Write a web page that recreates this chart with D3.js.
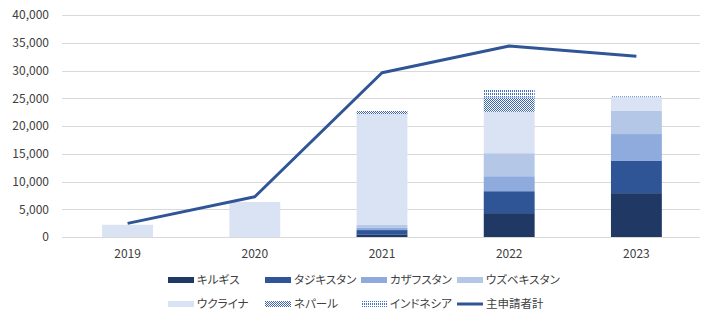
<!DOCTYPE html>
<html>
<head>
<meta charset="utf-8">
<script src="https://cdn.jsdelivr.net/npm/d3@7"></script>
<style>
  html, body { margin: 0; padding: 0; background: #fff; }
  svg { display: block; }
  text { font-family: "Noto Sans CJK JP", "Noto Sans", sans-serif; fill: #404040; }
  .legend text { font-feature-settings: "palt"; }
</style>
</head>
<body>
<svg id="chart" width="715" height="322"></svg>
<script>
// 年別・国籍別の申請者数
const years = ["2019", "2020", "2021", "2022", "2023"];
const kyrgyz    = [0, 0, 400, 4300, 7900];
const tajik     = [0, 0, 850, 3950, 5800];
const kazakh    = [0, 0, 400, 2700, 4850];
const uzbek     = [0, 0, 500, 4150, 4150];
const ukraine   = [2200, 6300, 20000, 7450, 2500];
const nepal     = [0, 0, 550, 2600, 0];
const indonesia = [0, 0, 0, 1500, 150];
const total     = [2450, 7250, 29600, 34400, 32550];
const yTicks = [0, 5000, 10000, 15000, 20000, 25000, 30000, 35000, 40000];

const series = [
  { name: "キルギス",     values: kyrgyz,    fill: "#203864" },
  { name: "タジキスタン", values: tajik,     fill: "#2f5597" },
  { name: "カザフスタン", values: kazakh,    fill: "#8faadc" },
  { name: "ウズベキスタン", values: uzbek,   fill: "#b4c7e7" },
  { name: "ウクライナ",   values: ukraine,   fill: "#dae3f3" },
  { name: "ネパール",     values: nepal,     fill: "url(#checker)" },
  { name: "インドネシア", values: indonesia, fill: "url(#dots)" }
];
const lineName = "主申請者計";

const svg = d3.select("#chart");
const margin = { left: 64, right: 15, top: 15, bottom: 85 };
const W = 715, H = 322;

// patterns
const defs = svg.append("defs");
const checker = defs.append("pattern").attr("id", "checker")
  .attr("patternUnits", "userSpaceOnUse").attr("width", 2).attr("height", 2);
checker.append("rect").attr("width", 2).attr("height", 2).attr("fill", "#fff");
checker.append("rect").attr("x", 0).attr("y", 0).attr("width", 1).attr("height", 1).attr("fill", "#3f67b3");
checker.append("rect").attr("x", 1).attr("y", 1).attr("width", 1).attr("height", 1).attr("fill", "#3f67b3");
const dots = defs.append("pattern").attr("id", "dots")
  .attr("patternUnits", "userSpaceOnUse").attr("width", 2).attr("height", 3);
dots.append("rect").attr("width", 2).attr("height", 3).attr("fill", "#fff");
dots.append("rect").attr("x", 0).attr("y", 0).attr("width", 1).attr("height", 2).attr("fill", "#4472c4");

const x = d3.scaleBand().domain(years).range([margin.left, W - margin.right]);
const y = d3.scaleLinear().domain([0, 40000]).range([237, 15]);

// gridlines
svg.append("g").selectAll("line").data(yTicks).join("line")
  .attr("x1", 62).attr("x2", W - margin.right)
  .attr("y1", d => Math.round(y(d)) + 0.5).attr("y2", d => Math.round(y(d)) + 0.5)
  .attr("stroke", "#d9d9d9").attr("stroke-width", 1);

// y axis labels
const yAxis = d3.axisLeft(y).tickValues(yTicks).tickSize(0).tickPadding(0)
  .tickFormat(d3.format(","));
const gy = svg.append("g").attr("transform", "translate(49,0)").call(yAxis);
gy.select(".domain").remove();
gy.selectAll("text").attr("font-size", 12).attr("fill", "#404040")
  .style("font-family", '"Noto Sans CJK JP", sans-serif');

// x axis labels
const xAxis = d3.axisBottom(x).tickSize(0).tickPadding(0);
const gx = svg.append("g").attr("transform", "translate(0,249)").call(xAxis);
gx.select(".domain").remove();
gx.selectAll("text").attr("font-size", 12).attr("fill", "#333")
  .style("font-family", '"Noto Sans CJK JP", sans-serif');

// stacked bars
const rows = years.map((yr, i) => {
  const r = { year: yr };
  series.forEach(s => r[s.name] = s.values[i]);
  return r;
});
const stack = d3.stack().keys(series.map(s => s.name));
const stacked = stack(rows);
const barW = x.bandwidth() * 0.4;

svg.append("g").selectAll("g").data(stacked).join("g")
  .attr("fill", (d, i) => series[i].fill)
  .selectAll("rect").data(d => d).join("rect")
  .attr("x", d => x(d.data.year) + (x.bandwidth() - barW) / 2)
  .attr("width", barW)
  .attr("y", d => y(d[1]))
  .attr("height", d => Math.max(0, y(d[0]) - y(d[1])));

// total line
const line = d3.line()
  .x((d, i) => x(years[i]) + x.bandwidth() / 2)
  .y(d => y(d));
svg.append("path").datum(total)
  .attr("d", line).attr("fill", "none")
  .attr("stroke", "#2f5597").attr("stroke-width", 3)
  .attr("stroke-linejoin", "round");

// legend
const legendItems = series.map(s => ({ name: s.name, fill: s.fill, type: "rect" }))
  .concat([{ name: lineName, type: "line" }]);
const colX = [168, 265, 361, 457];
const rowY = [280, 304];
const lg = svg.append("g").attr("class", "legend");
legendItems.forEach((it, i) => {
  const cx = colX[i % 4], cy = rowY[Math.floor(i / 4)];
  if (it.type === "rect") {
    lg.append("rect").attr("x", cx).attr("y", cy - 3).attr("width", 26).attr("height", 6)
      .attr("fill", it.fill);
  } else {
    lg.append("line").attr("x1", cx).attr("x2", cx + 26).attr("y1", cy).attr("y2", cy)
      .attr("stroke", "#2f5597").attr("stroke-width", 3);
  }
  lg.append("text").attr("x", cx + 29).attr("y", cy).attr("dy", "0.35em")
    .attr("font-size", 11.5).attr("fill", "#262626").text(it.name);
});
</script>
</body>
</html>
